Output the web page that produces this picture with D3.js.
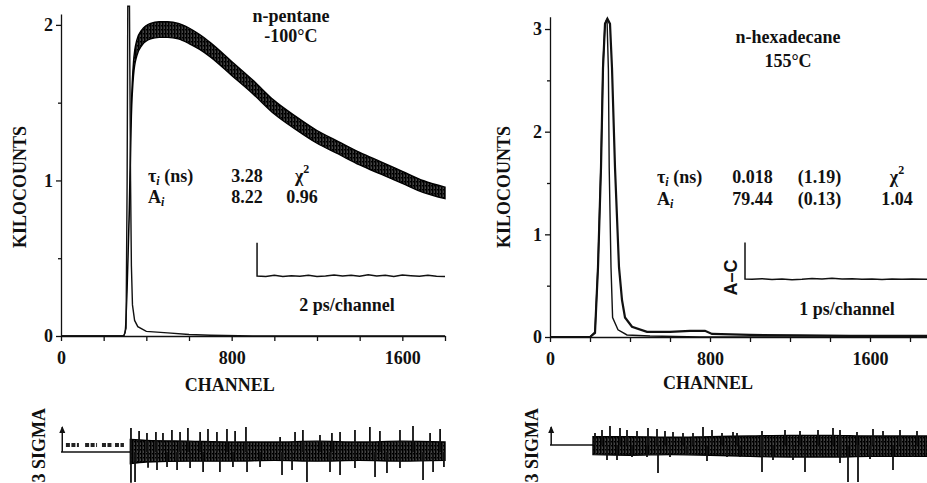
<!DOCTYPE html>
<html>
<head>
<meta charset="utf-8">
<script src="https://cdn.jsdelivr.net/npm/d3@7"></script>
<style>
body { margin: 0; background: #fff; }
text { font-family: "Liberation Serif", "Times New Roman", serif; font-weight: bold; fill: #111; }
.axis path, .axis line { stroke: #111; stroke-width: 1.3; }
.axis text { font-size: 18px; font-family: "Liberation Serif", serif; font-weight: bold; fill: #111; }
</style>
</head>
<body>
<svg id="chart" width="927" height="483"></svg>
<script>
// ---- axis ticks ----
var xTicks = [0, 200, 400, 600, 800, 1000, 1200, 1400, 1600, 1800];
var xLabels = [0, 800, 1600];
var yTicksL = [0, 0.5, 1, 1.5, 2];
var yLabelsL = [0, 1, 2];
var yTicksR = [0, 0.5, 1, 1.5, 2, 2.5, 3];
var yLabelsR = [0, 1, 2, 3];

// ---- n-pentane, -100C (left) ----
var pentCh    = [0, 290, 300, 310, 320, 330, 340, 355, 380, 420, 460, 500, 550, 600, 650, 700, 800, 900, 1000, 1100, 1200, 1300, 1400, 1500, 1600, 1700, 1800];
var pentKc    = [0, 0, 0.02, 0.3, 0.8, 1.45, 1.72, 1.85, 1.92, 1.96, 1.97, 1.97, 1.96, 1.93, 1.89, 1.84, 1.72, 1.60, 1.47, 1.37, 1.28, 1.21, 1.14, 1.08, 1.02, 0.96, 0.92];
var pentNoise = [0, 0, 0, 0, 0.02, 0.035, 0.045, 0.05, 0.05, 0.05, 0.05, 0.05, 0.05, 0.05, 0.048, 0.046, 0.045, 0.044, 0.043, 0.042, 0.041, 0.04, 0.04, 0.04, 0.039, 0.038, 0.037];
var irfLCh = [0, 295, 305, 310, 313, 321, 326, 330, 335, 345, 360, 400, 450, 500, 600, 700, 900, 1800];
var irfLKc = [0, 0, 0.05, 1.0, 2.12, 2.12, 1.0, 0.45, 0.2, 0.1, 0.06, 0.03, 0.025, 0.02, 0.01, 0.005, 0, 0];
var acLCh = [919, 919, 960, 1000, 1040, 1080, 1120, 1160, 1200, 1240, 1280, 1320, 1360, 1400, 1440, 1480, 1520, 1560, 1600, 1640, 1680, 1720, 1760, 1800];
var acLKc = [0.60, 0.386, 0.383, 0.39, 0.382, 0.388, 0.384, 0.39, 0.383, 0.386, 0.392, 0.385, 0.39, 0.384, 0.393, 0.386, 0.39, 0.383, 0.392, 0.388, 0.384, 0.39, 0.384, 0.382];

// ---- n-hexadecane, 155C (right) ----
var hexCh = [0, 200, 225, 240, 255, 265, 275, 287, 300, 310, 325, 345, 360, 375, 410, 485, 600, 700, 775, 810, 1000, 1250, 1500, 1885];
var hexKc = [0, 0, 0.04, 0.68, 1.65, 2.62, 3.05, 3.1, 3.05, 2.62, 1.65, 0.68, 0.36, 0.19, 0.10, 0.05, 0.05, 0.06, 0.06, 0.03, 0.02, 0.015, 0.01, 0.01];
var irfRCh = [0, 200, 225, 240, 255, 265, 275, 285, 292, 296, 305, 313, 340, 385, 500, 750, 1885];
var irfRKc = [0, 0, 0.05, 0.7, 1.7, 2.65, 3.05, 3.1, 2.6, 1.65, 0.68, 0.19, 0.07, 0.02, 0.01, 0, 0];
var acRCh = [975, 975, 1010, 1060, 1110, 1160, 1210, 1260, 1310, 1360, 1410, 1460, 1510, 1560, 1610, 1660, 1710, 1760, 1810, 1885];
var acRKc = [0.92, 0.565, 0.562, 0.568, 0.56, 0.565, 0.558, 0.562, 0.57, 0.565, 0.572, 0.566, 0.568, 0.562, 0.566, 0.56, 0.565, 0.562, 0.566, 0.563];

// ---- weighted residuals (sigma units) ----
var resLBandCh = [325, 400, 600, 800, 1000, 1200, 1400, 1600, 1800];
var resLHi = [1.5, 1.4, 1.3, 1.2, 1.2, 1.3, 1.2, 1.3, 1.2];
var resLLo = [-1.4, -1.2, -1.1, -1.1, -1.0, -1.1, -1.0, -1.1, -1.0];
var resLUpCh = [328, 366, 403, 445, 478, 520, 558, 595, 652, 689, 731, 778, 816, 867, 1027, 1097, 1134, 1214, 1270, 1308, 1378, 1448, 1495, 1589, 1650, 1730, 1777];
var resLUp = [2.88, 2.52, 2.28, 2.4, 2.28, 2.64, 2.4, 2.88, 2.4, 2.76, 2.4, 2.76, 2.52, 3.0, 1.8, 2.4, 2.64, 2.04, 2.28, 2.4, 2.64, 3.0, 2.52, 2.64, 3.12, 2.28, 2.76];
var resLDnCh = [328, 347, 408, 450, 497, 544, 605, 666, 745, 806, 872, 933, 1036, 1083, 1153, 1261, 1308, 1378, 1472, 1528, 1589, 1697, 1744, 1795];
var resLDn = [-3.7, -3.6, -1.9, -2.16, -1.8, -2.16, -1.92, -2.4, -2.4, -1.8, -2.4, -1.8, -2.76, -2.16, -3.6, -2.4, -2.76, -1.92, -3.0, -2.52, -1.92, -3.36, -2.4, -1.8];
var resLBlocks = [[23, 84], [113, 169], [192, 244], [253, 295]];

var resRBandCh = [215, 400, 600, 800, 1000, 1200, 1400, 1600, 1885];
var resRHi = [1.4, 1.4, 1.3, 1.4, 1.5, 1.6, 1.6, 1.5, 1.5];
var resRLo = [-1.6, -1.7, -1.6, -1.7, -1.9, -2.0, -2.0, -1.9, -1.9];
var resRUpCh = [225, 260, 300, 350, 385, 435, 490, 535, 575, 615, 665, 715, 765, 810, 860, 915, 935, 1060, 1175, 1250, 1340, 1415, 1450, 1535, 1615, 1665, 1750, 1835];
var resRUp = [2.0, 2.5, 3.17, 2.83, 2.5, 2.33, 2.83, 2.67, 2.33, 2.17, 2.0, 2.0, 3.0, 2.5, 2.0, 2.17, 2.0, 2.33, 2.5, 2.33, 2.5, 2.83, 2.5, 2.17, 2.67, 2.33, 2.5, 2.33];
var resRDnCh = [285, 335, 410, 485, 540, 600, 685, 785, 885, 950, 1060, 1115, 1215, 1275, 1350, 1450, 1490, 1540, 1600, 1715, 1815];
var resRDn = [-2.5, -2.5, -2.0, -2.0, -4.67, -2.0, -1.67, -2.67, -2.0, -2.0, -4.5, -2.5, -2.5, -4.5, -2.0, -3.0, -6.17, -6.17, -2.33, -4.17, -2.0];

// ---- fit results ----
var pentTau = ["3.28"], pentA = ["8.22"], pentChi = "0.96";
var hexTau = ["0.018", "(1.19)"], hexA = ["79.44", "(0.13)"], hexChi = "1.04";

var svg = d3.select("#chart");
svg.append("rect").attr("width", 927).attr("height", 483).attr("fill", "#fff");

// speckled fill, like the dense noise of the scanned traces
var pat = svg.append("defs").append("pattern").attr("id", "grain")
  .attr("width", 3).attr("height", 4).attr("patternUnits", "userSpaceOnUse");
pat.append("rect").attr("width", 3).attr("height", 4).attr("fill", "#454545");
pat.append("rect").attr("x", 0).attr("width", 1.5).attr("height", 4).attr("fill", "#000");
pat.append("rect").attr("x", 2).attr("y", 1).attr("width", 1).attr("height", 1.5).attr("fill", "#000");

function zip(a, b) { return a.map(function(d, i) { return [d, b[i]]; }); }

function panel(o) {
  var g = svg.append("g");
  var x = o.x, y = o.y, r = o.r;

  // axes
  var ax = d3.axisBottom(x).tickValues(xTicks).tickSize(5).tickSizeOuter(0).tickPadding(10)
    .tickFormat(function(d) { return xLabels.indexOf(d) >= 0 ? d : ""; });
  g.append("g").attr("class", "axis").attr("transform", "translate(0," + y(0) + ")").call(ax);
  var ay = d3.axisLeft(y).tickValues(o.yTicks).tickSize(5).tickSizeOuter(0).tickPadding(3)
    .tickFormat(function(d) { return o.yLabels.indexOf(d) >= 0 ? d : ""; });
  var gy = g.append("g").attr("class", "axis").attr("transform", "translate(" + x(0) + ",0)").call(ay);
  gy.selectAll(".tick").filter(function(d) { return o.yLabels.indexOf(d) < 0; }).select("line").attr("x2", -3);

  var line = d3.line().x(function(d) { return x(d[0]); }).y(function(d) { return y(d[1]); });

  // fluorescence decay
  if (o.band) {
    var area = d3.area().curve(d3.curveMonotoneX)
      .x(function(d) { return x(d[0]); })
      .y0(function(d) { return y(d[1] - d[2]); })
      .y1(function(d) { return y(d[1] + d[2]); });
    var pts = o.decCh.map(function(c, i) { return [c, o.decKc[i], o.band[i]]; });
    g.append("path").datum(pts).attr("d", area)
      .attr("fill", "url(#grain)").attr("stroke", "#000").attr("stroke-width", 1.4);
  } else {
    g.append("path").datum(zip(o.decCh, o.decKc)).attr("d", line)
      .attr("fill", "none").attr("stroke", "#111").attr("stroke-width", 2.2);
  }
  // instrument response
  g.append("path").datum(zip(o.irfCh, o.irfKc)).attr("d", line)
    .attr("fill", "none").attr("stroke", "#111").attr("stroke-width", 1.4);
  // autocorrelation inset
  g.append("path").datum(zip(o.acCh, o.acKc)).attr("d", line)
    .attr("fill", "none").attr("stroke", "#111").attr("stroke-width", 1.5);

  // residuals
  g.append("line").attr("x1", x(0)).attr("x2", x(o.resStart)).attr("y1", r(0)).attr("y2", r(0))
    .attr("stroke", "#111").attr("stroke-width", 1.5);
  g.append("line").attr("x1", x(6)).attr("x2", x(6)).attr("y1", r(0)).attr("y2", r(3))
    .attr("stroke", "#111").attr("stroke-width", 1.5);
  g.append("path").attr("d", "M" + (x(6) - 3) + "," + (r(3) + 6) + "L" + x(6) + "," + (r(3) - 1) + "L" + (x(6) + 3) + "," + (r(3) + 6) + "Z")
    .attr("fill", "#111");
  var rArea = d3.area().curve(d3.curveMonotoneX)
    .x(function(d) { return x(d[0]); }).y0(function(d) { return r(d[1]); }).y1(function(d) { return r(d[2]); });
  g.append("path").datum(o.rCh.map(function(c, i) { return [c, o.rLo[i], o.rHi[i]]; }))
    .attr("d", rArea).attr("fill", "url(#grain)").attr("stroke", "#000").attr("stroke-width", 1.4);
  g.selectAll(null).data(zip(o.upCh, o.up).concat(zip(o.dnCh, o.dn))).enter().append("line")
    .attr("x1", function(d) { return x(d[0]); }).attr("x2", function(d) { return x(d[0]); })
    .attr("y1", r(0)).attr("y2", function(d) { return r(d[1]); })
    .attr("stroke", "#111").attr("stroke-width", 1.8);
  if (o.blocks) {
    g.selectAll(null).data(o.blocks).enter().append("line")
      .attr("x1", function(d) { return x(d[0]); }).attr("x2", function(d) { return x(d[1]); })
      .attr("y1", r(0.85)).attr("y2", r(0.85))
      .attr("stroke", "#222").attr("stroke-width", 4).attr("stroke-dasharray", "4,1.5");
  }

  // labels
  g.append("text").attr("transform", "translate(" + o.kcX + ",187) rotate(-90)")
    .attr("text-anchor", "middle").attr("font-size", 18).text("KILOCOUNTS");
  g.append("text").attr("x", x(800) - 2).attr("y", o.chY).attr("text-anchor", "middle")
    .attr("font-size", 18).text("CHANNEL");
  g.append("text").attr("transform", "translate(" + o.sgX + ",408) rotate(-90)")
    .attr("text-anchor", "end").attr("font-size", 18).text("3 SIGMA");
  return g;
}

function annotate(g, x, y, o) {
  g.append("text").attr("x", x(o.titleCh)).attr("y", y(o.titleV[0])).attr("text-anchor", "middle")
    .attr("font-size", 18).text(o.title[0]);
  g.append("text").attr("x", x(o.titleCh)).attr("y", y(o.titleV[1])).attr("text-anchor", "middle")
    .attr("font-size", 18).text(o.title[1]);
  g.append("text").attr("x", x(o.rowCh)).attr("y", y(o.rowV[0])).attr("font-size", 18)
    .html('\u03c4<tspan font-style="italic" font-size="12" dy="3">i</tspan><tspan dy="-3"> (ns)</tspan>');
  g.append("text").attr("x", x(o.rowCh)).attr("y", y(o.rowV[1])).attr("font-size", 18)
    .html('A<tspan font-style="italic" font-size="12" dy="3">i</tspan>');
  o.tau.forEach(function(t, i) {
    g.append("text").attr("x", x(o.colCh[i])).attr("y", y(o.rowV[0])).attr("text-anchor", "middle").attr("font-size", 18).text(t);
    g.append("text").attr("x", x(o.colCh[i])).attr("y", y(o.rowV[1])).attr("text-anchor", "middle").attr("font-size", 18).text(o.amp[i]);
  });
  g.append("text").attr("x", x(o.chiCh)).attr("y", y(o.rowV[0])).attr("text-anchor", "middle").attr("font-size", 18)
    .html('\u03c7<tspan font-size="12" dy="-9">2</tspan>');
  g.append("text").attr("x", x(o.chiCh)).attr("y", y(o.rowV[1])).attr("text-anchor", "middle").attr("font-size", 18).text(o.chi);
  g.append("text").attr("x", x(o.scaleCh)).attr("y", y(o.scaleV)).attr("text-anchor", "middle")
    .attr("font-size", 18).text(o.scale);
}

var xL = d3.scaleLinear().domain([0, 1800]).range([61, 445]);
var yL = d3.scaleLinear().domain([0, 2.07]).range([336, 14]);
var rL = d3.scaleLinear().domain([-3, 3]).range([477, 427]);
var gL = panel({ x: xL, y: yL, r: rL, yTicks: yTicksL, yLabels: yLabelsL,
  decCh: pentCh, decKc: pentKc, band: pentNoise, irfCh: irfLCh, irfKc: irfLKc, acCh: acLCh, acKc: acLKc,
  resStart: 325, rCh: resLBandCh, rHi: resLHi, rLo: resLLo, upCh: resLUpCh, up: resLUp, dnCh: resLDnCh, dn: resLDn,
  blocks: resLBlocks, kcX: 26, chY: 391, sgX: 45 });
annotate(gL, xL, yL, { title: ["n-pentane", "-100\u00b0C"], titleCh: 1078, titleV: [2.02, 1.89],
  rowCh: 408, rowV: [0.99, 0.855], tau: pentTau, amp: pentA, colCh: [872], chiCh: 1130, chi: pentChi,
  scale: "2 ps/channel", scaleCh: 1341, scaleV: 0.16 });

var xR = d3.scaleLinear().domain([0, 1885]).range([550, 927]);
var yR = d3.scaleLinear().domain([0, 3.12]).range([337, 16.7]);
var rR = d3.scaleLinear().domain([-3, 3]).range([463, 427]);
var gR = panel({ x: xR, y: yR, r: rR, yTicks: yTicksR, yLabels: yLabelsR,
  decCh: hexCh, decKc: hexKc, irfCh: irfRCh, irfKc: irfRKc, acCh: acRCh, acKc: acRKc,
  resStart: 215, rCh: resRBandCh, rHi: resRHi, rLo: resRLo, upCh: resRUpCh, up: resRUp, dnCh: resRDnCh, dn: resRDn,
  kcX: 510, chY: 389, sgX: 538 });
annotate(gR, xR, yR, { title: ["n-hexadecane", "155\u00b0C"], titleCh: 1190, titleV: [2.86, 2.63],
  rowCh: 535, rowV: [1.50, 1.286], tau: hexTau, amp: hexA, colCh: [1012, 1348], chiCh: 1735, chi: hexChi,
  scale: "1 ps/channel", scaleCh: 1485, scaleV: 0.21 });
gR.append("text").attr("transform", "translate(" + xR(935) + "," + yR(0.58) + ") rotate(-90)")
  .attr("text-anchor", "middle").attr("font-size", 18)
  .style("font-family", "'Liberation Sans', Arial, sans-serif").text("A\u2013C");
</script>
</body>
</html>
